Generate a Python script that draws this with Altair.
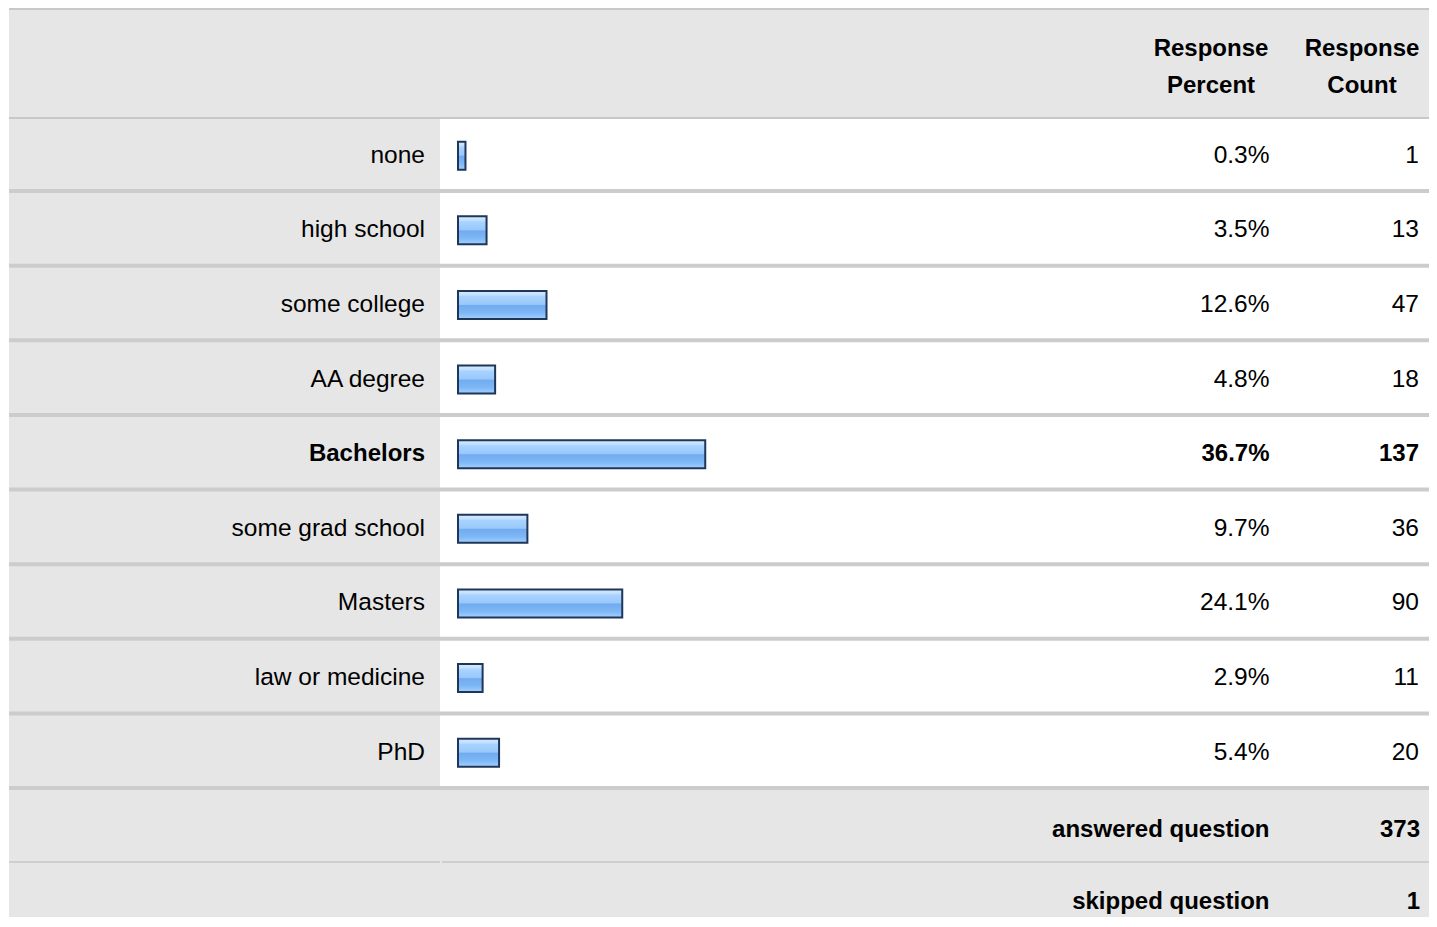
import altair as alt
import pandas as pd

# ---- data ----
categories = ["none", "high school", "some college", "AA degree", "Bachelors",
              "some grad school", "Masters", "law or medicine", "PhD"]
percents = [0.3, 3.5, 12.6, 4.8, 36.7, 9.7, 24.1, 2.9, 5.4]
counts = [1, 13, 47, 18, 137, 36, 90, 11, 20]
header_percent = ["Response", "Percent"]
header_count = ["Response", "Count"]
footer_labels = ["answered question", "skipped question"]
footer_counts = [373, 1]

W, H = 1421, 909
FONT = "Liberation Sans"
FS = 24.5
FSB = 24
GRAY = "#e6e6e6"
LINE = "#cccccc"

df = pd.DataFrame({"category": categories, "pct": percents, "count": counts})

one = alt.Data(values=[{}])


def box(x, x2, y, y2, color):
    return alt.Chart(one).mark_rect(color=color).encode(
        x=alt.value(x), x2=alt.value(x2), y=alt.value(y), y2=alt.value(y2))


def label(txt, x, y, align="right", bold=False):
    return alt.Chart(one).mark_text(
        text=txt, align=align, baseline="alphabetic", font=FONT,
        fontSize=FSB if bold else FS,
        fontWeight="bold" if bold else "normal", color="#000", lineHeight=37
    ).encode(x=alt.value(x), y=alt.value(y))


ycat = alt.Y("category:N", sort=categories, axis=None,
             scale=alt.Scale(domain=categories, range=[110.4, 782],
                             paddingInner=0, paddingOuter=0))

base = alt.Chart(df).transform_calculate(
    pct_label="format(datum.pct, '.1f') + '%'"
).transform_joinaggregate(maxc="max(count)")

# backgrounds
top_line = box(1, W, 0, 2, "#c8c8c8")
header_bg = box(1, W, 2, 109, GRAY)
header_line = box(1, W, 109, 111, "#c8c8c8")
label_col = box(1, 432, 111, 782, GRAY)
footer_bg = box(1, W, 782, H, GRAY)
footer_line1 = box(1, 432, 853, 855, "#cfcfcf")
footer_line2 = box(434, W, 853, 855, "#cfcfcf")

separators = alt.Chart(df).mark_rule(color=LINE, strokeWidth=4, yOffset=-2).encode(
    y=alt.Y("category:N", sort=categories, axis=None, bandPosition=1,
            scale=alt.Scale(domain=categories, range=[110.4, 782],
                            paddingInner=0, paddingOuter=0)),
    x=alt.value(1), x2=alt.value(W))

gradient = alt.Gradient(
    gradient="linear", x1=0, y1=0, x2=0, y2=1,
    stops=[
        alt.GradientStop(offset=0.0, color="#d6ebff"),
        alt.GradientStop(offset=0.14, color="#c2e0ff"),
        alt.GradientStop(offset=0.2, color="#a9d3ff"),
        alt.GradientStop(offset=0.48, color="#98c8fd"),
        alt.GradientStop(offset=0.52, color="#72abef"),
        alt.GradientStop(offset=0.78, color="#7db7f6"),
        alt.GradientStop(offset=1.0, color="#a4d0ff"),
    ])

bars = alt.Chart(df).mark_bar(size=28, fill=gradient, stroke="#1f3659",
                              strokeWidth=2).encode(
    y=ycat,
    x=alt.X("pct:Q", axis=None, stack=None,
            scale=alt.Scale(domain=[0, 100], range=[455.5, 1114.2], nice=False,
                            zero=False)),
    x2=alt.value(450))


def col_text(field, x, bold):
    flt = "datum.count == datum.maxc" if bold else "datum.count != datum.maxc"
    return base.transform_filter(flt).mark_text(
        align="right", baseline="alphabetic", dy=7, font=FONT,
        fontSize=FSB if bold else FS,
        fontWeight="bold" if bold else "normal", color="#000"
    ).encode(y=ycat, x=alt.value(x), text=alt.Text(field))


texts = []
for b in (False, True):
    texts += [col_text("category:N", 417, b), col_text("pct_label:N", 1261.5, b),
              col_text("count:Q", 1411, b)]

headers = [
    label(header_percent, 1203, 48, align="center", bold=True),
    label(header_count, 1354, 48, align="center", bold=True),
    label(footer_labels[0], 1261.5, 829, bold=True),
    label(str(footer_counts[0]), 1412, 829, bold=True),
    label(footer_labels[1], 1261.5, 901, bold=True),
    label(str(footer_counts[1]), 1412, 901, bold=True),
]

chart = alt.layer(
    top_line, header_bg, header_line, label_col, footer_bg, footer_line1,
    footer_line2, separators, bars, *texts, *headers
).properties(
    width=W, height=H, padding=0, autosize=alt.AutoSizeParams(type="none"),
    background="white"
).configure_view(stroke=None)

chart.save("out.html", embed_options={"renderer": "svg", "actions": False})
